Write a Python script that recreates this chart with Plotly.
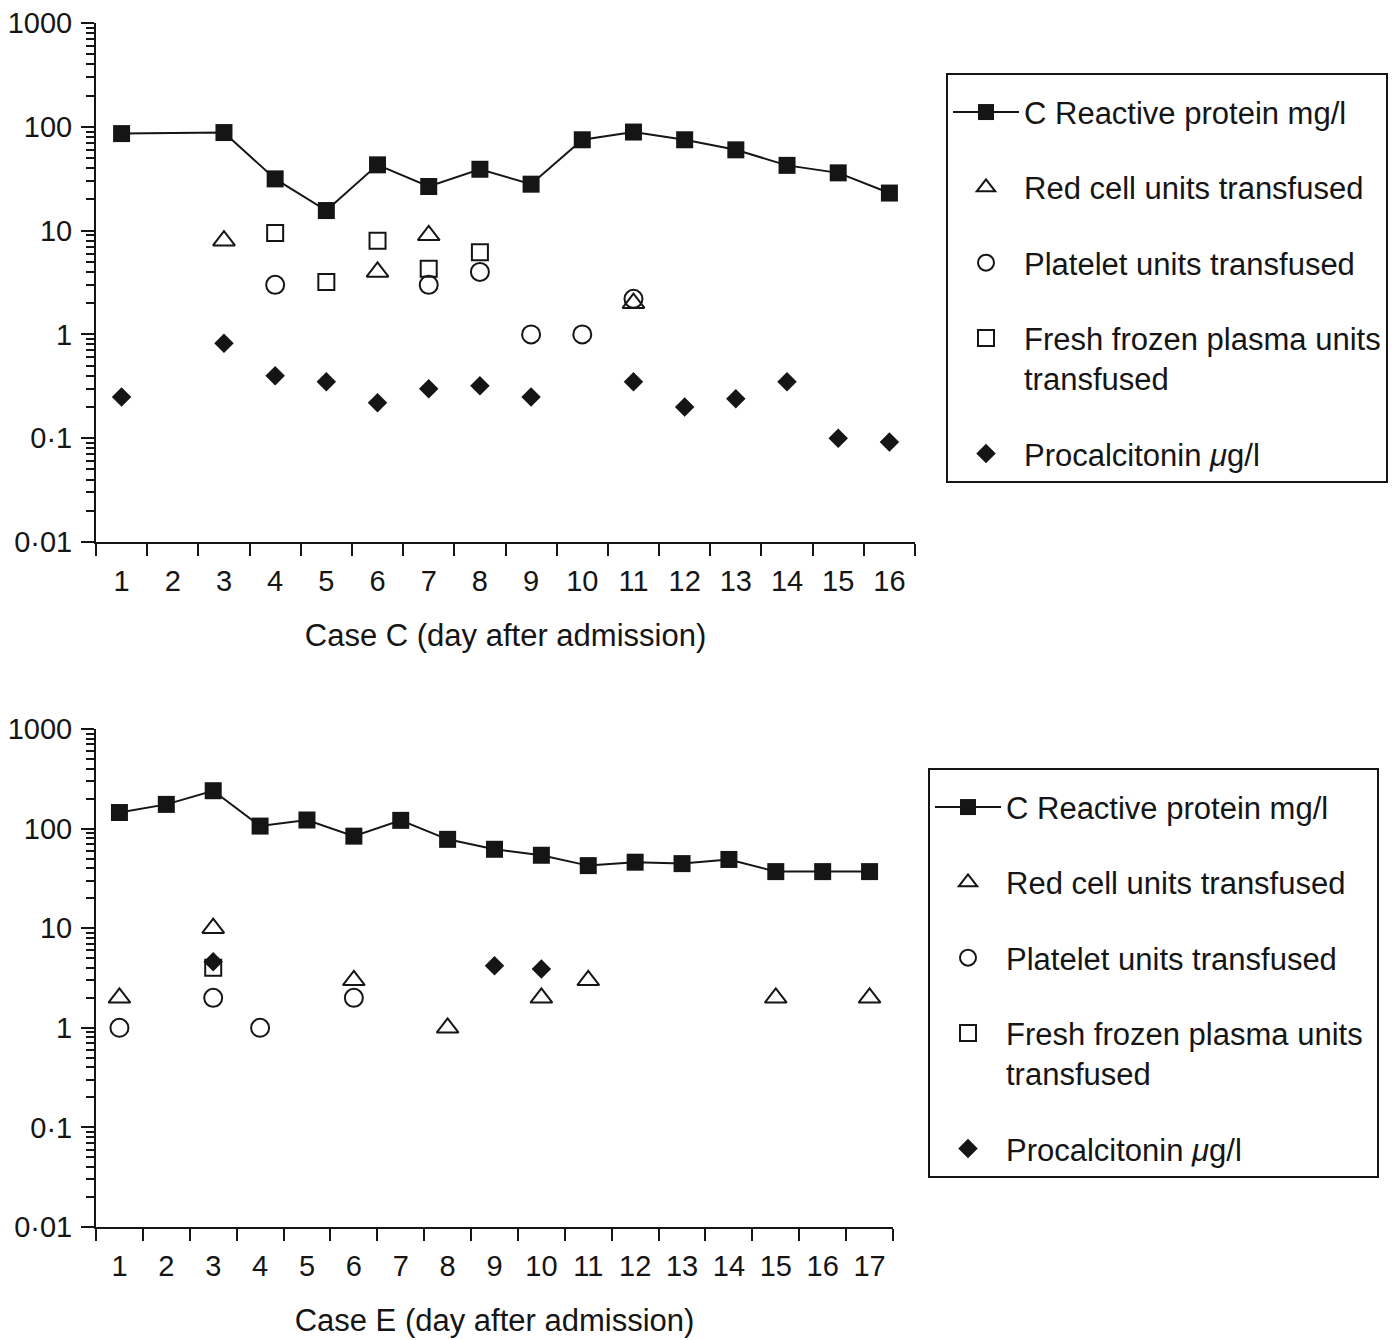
import plotly.graph_objects as go

days_c = [str(d) for d in range(1, 17)]
crp_c = [86, None, 88, 31.5, 15.6, 43, 26.6, 39, 28, 75, 89, 75, 60, 42.5, 36, 23]
red_c = [None, None, 8, None, None, 4, 9, None, None, None, 2, None, None, None, None, None]
plt_c = [None, None, None, 3, None, None, 3, 4, 1, 1, 2.2, None, None, None, None, None]
ffp_c = [None, None, None, 9.5, 3.2, 8, 4.3, 6.2, None, None, None, None, None, None, None, None]
pct_c = [0.25, None, 0.82, 0.40, 0.35, 0.22, 0.30, 0.32, 0.25, None, 0.35, 0.20, 0.24, 0.35, 0.10, 0.092]

# Case E (bottom panel)
days_e = [str(d) for d in range(1, 18)]
crp_e = [145, 175, 240, 106, 122, 84, 121, 78, 62, 54, 42.5, 46, 44.5, 49, 37, 37, 37]
red_e = [2, None, 10, None, None, 3, None, 1, None, 2, 3, None, None, None, 2, None, 2]
plt_e = [1, None, 2, 1, None, 2, None, None, None, None, None, None, None, None, None, None, None]
ffp_e = [None, None, 4, None, None, None, None, None, None, None, None, None, None, None, None, None, None]
pct_e = [None, None, 4.6, None, None, None, None, None, 4.2, 3.9, None, None, None, None, None, None, None]

names = ["C Reactive protein mg/l", "Red cell units transfused", "Platelet units transfused",
         "Fresh frozen plasma units<br>transfused", "Procalcitonin <i>μ</i>g/l"]

ytick_vals = [0.01, 0.1, 1, 10, 100, 1000]
ytick_text = ["0·01", "0·1", "1", "10", "100", "1000"]
minor_vals = [m * 10 ** e for e in range(-2, 3) for m in range(2, 10)]

INK = "#151515"
FONT = "Liberation Sans, Arial, sans-serif"
W, H = 1400, 1340
OFF = 8  # page body margin, positions below are in screen pixels

fig = go.Figure()


def add_case(days, crp, red, plt, ffp, pct, xa, ya, leg, pad=""):
    fig.add_trace(go.Scatter(x=days, y=crp, name=names[0], mode="lines+markers", connectgaps=True,
                             line=dict(color=INK, width=2),
                             marker=dict(symbol="square", size=17, color=INK),
                             xaxis=xa, yaxis=ya, legend=leg, legendgroup=leg + "a"))
    fig.add_trace(go.Scatter(x=days, y=red, name=names[1], mode="markers",
                             marker=dict(symbol="triangle-up-open", size=19, color=INK, line=dict(width=2)),
                             xaxis=xa, yaxis=ya, legend=leg, legendgroup=leg + "b"))
    fig.add_trace(go.Scatter(x=days, y=plt, name=names[2], mode="markers",
                             marker=dict(symbol="circle-open", size=18, color=INK, line=dict(width=2)),
                             xaxis=xa, yaxis=ya, legend=leg, legendgroup=leg + "c"))
    fig.add_trace(go.Scatter(x=days, y=ffp, name=names[3].replace("<br>", pad + "<br>"), mode="markers",
                             marker=dict(symbol="square-open", size=16, color=INK, line=dict(width=2)),
                             xaxis=xa, yaxis=ya, legend=leg, legendgroup=leg + "d"))
    fig.add_trace(go.Scatter(x=days, y=pct, name=names[4], mode="markers",
                             marker=dict(symbol="diamond", size=15, color=INK),
                             xaxis=xa, yaxis=ya, legend=leg, legendgroup=leg + "e"))


add_case(days_c, crp_c, red_c, plt_c, ffp_c, pct_c, "x", "y", "legend")
add_case(days_e, crp_e, red_e, plt_e, ffp_e, pct_e, "x2", "y2", "legend2", pad="&nbsp;")


def px_x(v):
    return (v - OFF) / W


def px_y(v):
    return 1 - (v - OFF) / H


def xaxis(days, left, right, anchor, title):
    return dict(domain=[px_x(left), px_x(right)], anchor=anchor, type="category", automargin=False,
                categoryorder="array", categoryarray=days, range=[-0.5, len(days) - 0.5],
                tickson="boundaries", ticks="outside", ticklen=12, tickwidth=2, tickcolor=INK,
                showline=True, linewidth=2, linecolor=INK, showgrid=False, zeroline=False,
                tickfont=dict(size=29, color=INK), ticklabelstandoff=12,
                title=dict(text=title, font=dict(size=31, color=INK), standoff=29))


def yaxis(top, bottom, anchor):
    return dict(domain=[px_y(bottom), px_y(top)], anchor=anchor, type="log", range=[-2, 3],
                automargin=False, ticklabeloverflow="allow",
                tickmode="array", tickvals=ytick_vals, ticktext=ytick_text,
                ticks="outside", ticklen=13, tickwidth=2, tickcolor=INK,
                minor=dict(tickmode="array", tickvals=minor_vals, ticks="outside",
                           ticklen=8, tickwidth=2, tickcolor=INK, showgrid=False),
                showline=True, linewidth=2, linecolor=INK, showgrid=False, zeroline=False,
                tickfont=dict(size=29, color=INK), ticklabelstandoff=3)


def legend(left, top):
    return dict(x=px_x(left), y=px_y(top), xanchor="left", yanchor="top",
                bordercolor=INK, borderwidth=2, bgcolor="white",
                font=dict(size=31, color=INK, family=FONT), tracegroupgap=32,
                itemwidth=66, valign="top",
                title=dict(text=" ", font=dict(size=8)))


fig.update_layout(
    width=W, height=H,
    margin=dict(l=0, r=0, t=0, b=0, autoexpand=False),
    paper_bgcolor="white", plot_bgcolor="white",
    font=dict(family=FONT, color=INK),
    xaxis=xaxis(days_c, 96, 915, "y", "Case C (day after admission)"),
    yaxis=yaxis(23, 542, "x"),
    xaxis2=xaxis(days_e, 96, 893, "y2", "Case E (day after admission)"),
    yaxis2=yaxis(729, 1227, "x2"),
    legend=legend(946, 73),
    legend2=legend(928, 768),
)

fig.write_html("out.html")
